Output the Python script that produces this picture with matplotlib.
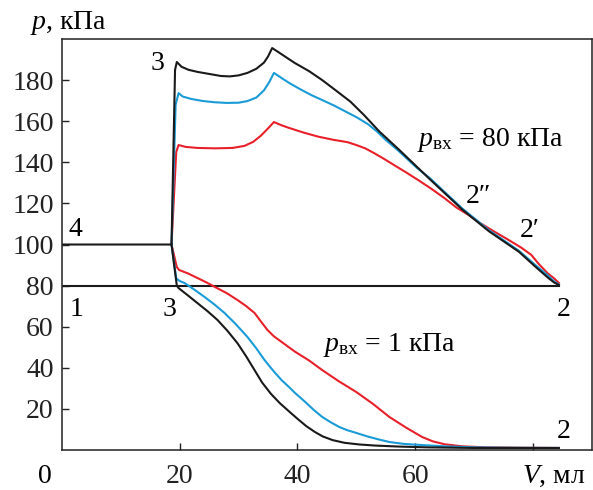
import numpy as np
import matplotlib.pyplot as plt
from matplotlib import rcParams

rcParams['font.family'] = ['Liberation Serif', 'DejaVu Serif']
rcParams['mathtext.fontset'] = 'custom'
rcParams['mathtext.rm'] = 'Liberation Serif'
rcParams['mathtext.it'] = 'Liberation Serif:italic'
rcParams['xtick.direction'] = 'in'
rcParams['ytick.direction'] = 'in'

# p_vx = 80 kPa (upper branch)
x_hi_black = [0, 18.6, 19.2, 19.5, 20.3, 21.5, 23.0, 25.0, 27.0, 28.5, 30.0, 31.5,
              33.0, 34.3, 35.0, 35.7, 37.5, 39.5, 42.0, 44.2, 46.5, 49.0, 51.3,
              53.9, 57.3, 62.4, 68.0, 72.5, 77.6, 80.5, 82.5, 83.6, 84.4]
y_hi_black = [100, 100, 185, 188.8, 186.5, 185, 184, 183, 182, 181.8, 182.3, 183.5,
              185.5, 188.5, 191.5, 195.6, 192.2, 188.4, 184.3, 180, 175, 169.5, 163,
              155, 146, 132, 117, 106.5, 96.5, 89, 84, 81.5, 80.3]

x_hi_blue = [18.6, 19.3, 19.8, 20.5, 22.0, 24.0, 26.0, 28.0, 30.0, 31.5, 33.0,
             34.3, 35.2, 36.0, 37.3, 38.6, 40.5, 42.5, 44.2, 46.3, 48.3, 50.0,
             52.0, 53.5, 55.0, 57.0, 58.7, 60.2, 62.4, 68.0, 72.5, 77.6, 80.5,
             82.5, 83.6, 84.4]
y_hi_blue = [100, 168, 173.7, 172, 170.8, 169.8, 169.2, 168.9, 169, 169.8, 171.5,
             175, 179, 183.5, 181, 178.6, 175.5, 172.5, 170.3, 167.5, 164.5, 162,
             158.5, 155, 150.9, 146, 141.5, 137.5, 132.5, 117.5, 107, 97, 89.8,
             85, 82, 80.5]

x_hi_red = [18.6, 19.4, 19.8, 21.0, 23.0, 26.0, 29.0, 31.0, 32.5, 33.8, 35.0,
            36.0, 37.3, 38.6, 41.0, 43.5, 46.0, 48.5, 50.0, 51.5, 53.0, 54.8,
            56.5, 58.5, 60.7, 62.8, 65.0, 67.0, 69.0, 71.0, 73.3, 75.7, 78.0,
            79.7, 81.0, 82.5, 83.6, 84.4]
y_hi_red = [100, 145, 148.4, 147.5, 147, 146.8, 147, 148, 150, 153, 156.5,
            159.6, 158, 156.7, 154.5, 152.5, 151, 149.8, 148.4, 146.8, 144.5, 141.5,
            138.5, 135, 131, 127, 122.5, 118, 114.5, 110.5, 106.5, 102.5, 98.5,
            95, 90.5, 86, 83.5, 81.3]

# p_vx = 1 kPa (lower branch)
x_lo_black = [18.6, 19.5, 19.8, 21.4, 23.0, 24.7, 26.4, 28.1, 29.8, 31.3, 32.7,
              34.0, 35.5, 37.0, 38.6, 40.0, 41.5, 43.0, 44.3, 46.0, 48.0, 50.5,
              53.0, 57.0, 62.0, 70.0, 84.4]
y_lo_black = [100, 80, 78.8, 75.2, 71.5, 67.6, 63.3, 58, 52, 45.5, 38.9,
              32.8, 27.3, 22.8, 18.7, 15.2, 11.6, 8.7, 6.6, 4.8, 3.5, 2.7,
              2.2, 1.7, 1.3, 1.0, 1.0]

x_lo_blue = [18.6, 19.4, 20.0, 20.8, 22.5, 24.2, 25.9, 27.6, 29.5, 31.5, 33.0,
             34.4, 35.9, 37.3, 38.5, 39.5, 41.5, 42.8, 44.2, 45.7, 47.1, 48.5,
             50.0, 52.0, 54.0, 55.6, 58.0, 61.2, 65.0, 70.0, 76.0, 84.4]
y_lo_blue = [100, 83.5, 82.2, 81.3, 78, 74.5, 70.8, 66.7, 61.3, 55, 49.5,
             43.8, 38.5, 34, 30.8, 28, 22.9, 19.4, 16.1, 13.4, 11.2, 9.6,
             8.3, 6.5, 5, 3.9, 3.0, 2.4, 1.8, 1.3, 1.1, 1.0]

x_lo_red = [18.6, 19.5, 19.9, 21.5, 23.0, 24.5, 26.0, 28.0, 29.8, 31.3, 32.7,
            33.8, 34.9, 36.0, 37.3, 39.5, 42.0, 44.2, 47.0, 50.0, 52.8, 55.6,
            58.5, 61.2, 63.0, 65.0, 68.0, 72.0, 78.0, 84.4]
y_lo_red = [100, 89, 87.6, 85.8, 83.7, 81.6, 79.3, 76.3, 73, 70, 66.7,
            62.5, 58.4, 55.3, 52.6, 48, 43.5, 38.9, 33.5, 28.2, 22.5, 16.1,
            10.8, 6.3, 4.2, 2.8, 1.8, 1.3, 1.1, 1.0]

x_base = [0, 84.4]
y_base = [80, 80]

red = '#e8202a'
blue = '#1a9bd7'
black = '#1a1a1a'

fig = plt.figure(figsize=(5.93, 4.90), dpi=100)
ax = fig.add_axes([0.1046, 0.0816, 0.8934, 0.8388])
ax.set_xlim(0, 90)
ax.set_ylim(0, 200)

lw = 1.5
ax.plot(x_base, y_base, color=black, lw=lw)
ax.plot(x_hi_red, y_hi_red, color=red, lw=lw)
ax.plot(x_lo_red, y_lo_red, color=red, lw=lw)
ax.plot(x_hi_blue, y_hi_blue, color=blue, lw=lw)
ax.plot(x_lo_blue, y_lo_blue, color=blue, lw=lw)
ax.plot(x_hi_black, y_hi_black, color=black, lw=lw)
ax.plot(x_lo_black, y_lo_black, color=black, lw=lw)

for s in ax.spines.values():
    s.set_linewidth(1.1)
    s.set_color('#222222')

ax.set_xticks([20, 40, 60, 80])
ax.set_xticklabels(['20', '40', '60', ''])
ax.set_yticks([20, 40, 60, 80, 100, 120, 140, 160, 180])
ax.tick_params(labelsize=20, length=5, width=1, pad=6, colors='#222222')
ax.tick_params(axis='x', pad=10)

fs = 20
ax.text(-2.9, -13, '0', fontsize=fs, ha='center', va='center', clip_on=False)
ax.text(89.0, -13, '$V$, мл', fontsize=fs, ha='right', va='center', clip_on=False)
ax.text(-5.4, 208, '$p$, кПа', fontsize=fs, ha='left', va='center', clip_on=False)

ax.text(16.2, 188, '3', fontsize=fs, ha='center', va='center')
ax.text(2.3, 107.5, '4', fontsize=fs, ha='center', va='center')
ax.text(2.5, 68.4, '1', fontsize=fs, ha='center', va='center')
ax.text(18.3, 68.5, '3', fontsize=fs, ha='center', va='center')
ax.text(72.7, 151, r'$p_{\mathrm{вх}}$ = 80 кПа', fontsize=fs, ha='center', va='center')
ax.text(70.8, 123.6, '2″', fontsize=fs, ha='center', va='center')
ax.text(79.5, 106.6, '2′', fontsize=fs, ha='center', va='center')
ax.text(85.3, 68.5, '2', fontsize=fs, ha='center', va='center')
ax.text(85.3, 9, '2', fontsize=fs, ha='center', va='center')
ax.text(55.6, 51, r'$p_{\mathrm{вх}}$ = 1 кПа', fontsize=fs, ha='center', va='center')

fig.savefig('out.png', dpi=100)
